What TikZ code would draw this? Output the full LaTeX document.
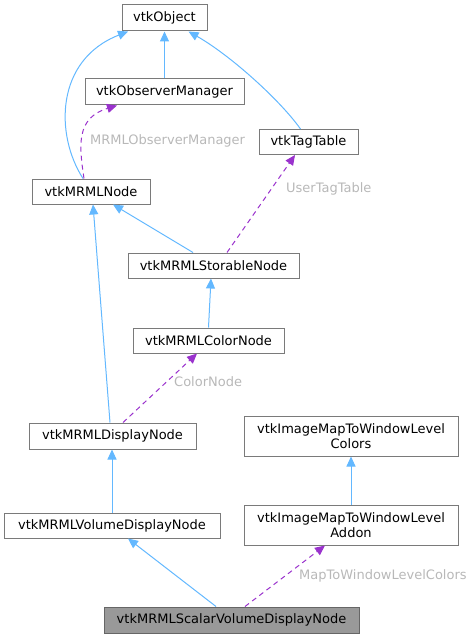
\documentclass[tikz,border=0pt]{standalone}
\usepackage{fontspec}
\setmainfont{DejaVu Sans}
\usepackage{xcolor}
\usepackage{tikz}
\usetikzlibrary{arrows.meta,positioning}
\definecolor{inheritblue}{HTML}{63B8FF}
\definecolor{memberpurple}{HTML}{9A32CD}
\definecolor{labelgray}{HTML}{B8B8B8}
\definecolor{boxborder}{HTML}{7A7A7A}
\tikzset{
  classbox/.style={draw=boxborder,fill=white,line width=1pt,inner sep=0pt,align=center,
    minimum height=25pt,font=\fontsize{13}{15}\selectfont},
  focusbox/.style={classbox,draw=black!60,fill=black!40},
  inheritarrow/.style={-{Triangle[length=10pt,width=9pt]},draw=inheritblue,line width=1pt},
  memberarrow/.style={-{Triangle[length=10pt,width=9pt]},draw=memberpurple,line width=1pt,
    dash pattern=on 5pt off 4pt},
  edgelabel/.style={text=labelgray,font=\fontsize{13}{15}\selectfont,anchor=west,inner sep=0pt}
}
\begin{document}
\begin{tikzpicture}[x=1pt,y=-1pt]
  \useasboundingbox (0,0) rectangle (475,639);
  \node[classbox,minimum width=85pt,minimum height=26pt] (obj) at (164.5,18) {vtkObject};
  \node[classbox,minimum width=159pt,minimum height=26pt] (obsmgr) at (164.5,92) {vtkObserverManager};
  \node[classbox,minimum width=99pt] (tagtable) at (308.5,142) {vtkTagTable};
  \node[classbox,minimum width=118pt] (mrmlnode) at (91,191.5) {vtkMRMLNode};
  \node[classbox,minimum width=171pt] (storable) at (213.5,265.5) {vtkMRMLStorableNode};
  \node[classbox,minimum width=151pt] (colornode) at (208.5,340.5) {vtkMRMLColorNode};
  \node[classbox,minimum width=167pt,minimum height=26pt] (display) at (112.5,436) {vtkMRMLDisplayNode};
  \node[classbox,minimum width=214pt,minimum height=40pt] (wlcolors) at (351,436) {vtkImageMapToWindowLevel\\Colors};
  \node[classbox,minimum width=216pt] (voldisplay) at (112,525.5) {vtkMRMLVolumeDisplayNode};
  \node[classbox,minimum width=214pt,minimum height=40pt] (wladdon) at (351,525) {vtkImageMapToWindowLevel\\Addon};
  \node[focusbox,minimum width=255pt,minimum height=26pt] (scalar) at (231.5,620) {vtkMRMLScalarVolumeDisplayNode};
  % inheritance
  \draw[inheritarrow] ([xshift=-8pt]mrmlnode.north) .. controls (55,135) and (55,60) .. ([xshift=-36.5pt]obj.south);
  \draw[inheritarrow] (obsmgr.north) -- (obj.south);
  \draw[inheritarrow] ([xshift=-8pt]tagtable.north) .. controls (280,100) and (230,55) .. ([xshift=24pt]obj.south);
  \draw[inheritarrow] ([xshift=-20.5pt]storable.north) -- ([xshift=22pt]mrmlnode.south);
  \draw[inheritarrow] ([xshift=-2.5pt]display.north) -- ([xshift=2pt]mrmlnode.south);
  \draw[inheritarrow] (colornode.north) -- ([xshift=-2.5pt]storable.south);
  \draw[inheritarrow] (voldisplay.north) -- (voldisplay.north |- display.south);
  \draw[inheritarrow] (wladdon.north) -- (wlcolors.south);
  \draw[inheritarrow] ([xshift=-15.5pt]scalar.north) -- ([xshift=16pt]voldisplay.south);
  % members
  \draw[memberarrow] ([xshift=-7pt]mrmlnode.north) .. controls (79,145) and (76,118) .. ([xshift=-47.5pt]obsmgr.south);
  \node[edgelabel] (lblobs) at (90,141) {MRMLObserverManager};
  \draw[memberarrow] ([xshift=13.5pt]storable.north) -- ([xshift=-13.5pt]tagtable.south);
  \node[edgelabel] (lbltag) at (286,189) {UserTagTable};
  \draw[memberarrow] ([xshift=10.5pt]display.north) -- ([xshift=-11.5pt]colornode.south);
  \node[edgelabel] (lblcolor) at (174,382) {ColorNode};
  \draw[memberarrow] ([xshift=13.5pt]scalar.north) -- ([xshift=-26pt]wladdon.south);
  \node[edgelabel] (lblwl) at (299,576) {MapToWindowLevelColors};
\end{tikzpicture}
\end{document}
